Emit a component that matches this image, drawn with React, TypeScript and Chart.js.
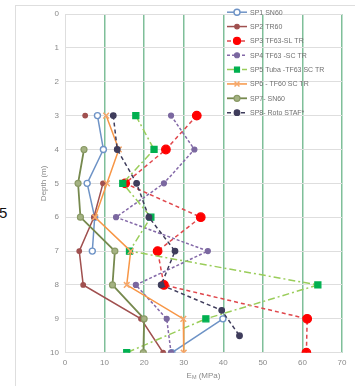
import React, { useEffect, useRef } from 'react';
import { Chart, registerables } from 'chart.js';

Chart.register(...registerables);

// ---- data ----
const depths = [3, 4, 5, 6, 7, 8, 9, 10];
const sp8Depths = [3, 4, 5, 6, 7, 8, 8.75, 9.5];
const seriesNames = [
  'SP1 SN60',
  'SP2 TR60',
  'SP3 TF63-SL TR',
  'SP4 TF63 -SC TR',
  'SP5 Tuba -TF63 SC TR',
  'SP6 - TF60 SC TR',
  'SP7- SN60',
  'SP8- Roto STAF*',
];
const sp1 = [8.2, 9.7, 5.6, 7.5, 6.9, null, 39.9, 27.0];
const sp2 = [5.1, null, 9.6, 7.3, 3.6, 4.6, 19.2, 24.8];
const sp3 = [33.3, 25.5, 15.2, 34.3, 23.4, 25.0, 61.2, 61.0];
const sp4 = [26.8, 32.7, 25.0, 12.9, 36.1, 17.9, 25.7, 26.8];
const sp5 = [17.9, 22.5, 14.6, 21.7, 16.3, 63.9, 35.6, 15.6];
const sp6 = [10.4, 13.6, 10.6, 7.6, 16.6, 15.6, 29.9, 30.0];
const sp7 = [null, 4.8, 3.3, 3.9, 12.6, 12.0, 20.0, 19.8];
const sp8 = [12.2, 13.2, 18.1, 21.2, 27.8, 24.3, 39.6, 44.1];
const xTickValues = [0, 10, 20, 30, 40, 50, 60, 70];
const yTickValues = [0, 1, 2, 3, 4, 5, 6, 7, 8, 9, 10];

const FONT = "'Liberation Sans', Arial, sans-serif";
const TEXT = '#8a8a8a';
const GRID_GRAY = '#dedede';
const GRID_GREEN = '#7fbf99';

type Pt = { x: number | null; y: number };
const pts = (vals: (number | null)[], ys: number[]): Pt[] => vals.map((v, i) => ({ x: v, y: ys[i] }));

function drawMarker(ctx: CanvasRenderingContext2D, style: string, x: number, y: number, r: number, fill: string, stroke: string, bw: number) {
  ctx.save();
  ctx.setLineDash([]);
  ctx.lineWidth = bw;
  ctx.fillStyle = fill;
  ctx.strokeStyle = stroke;
  ctx.beginPath();
  if (style === 'rect') {
    const s = Math.SQRT1_2 * r;
    ctx.rect(x - s, y - s, 2 * s, 2 * s);
    ctx.fill();
    ctx.stroke();
  } else if (style === 'crossRot') {
    const s = Math.SQRT1_2 * r;
    ctx.moveTo(x - s, y - s);
    ctx.lineTo(x + s, y + s);
    ctx.moveTo(x - s, y + s);
    ctx.lineTo(x + s, y - s);
    ctx.stroke();
  } else {
    ctx.arc(x, y, r, 0, Math.PI * 2);
    ctx.fill();
    ctx.stroke();
  }
  ctx.restore();
}

const legendPlugin = {
  id: 'excelLegend',
  afterDraw(chart: any) {
    const { ctx, chartArea } = chart;
    const x0 = chartArea.left + 162;
    const y0 = chartArea.top - 1.8;
    const step = 14.35;
    ctx.save();
    chart.data.datasets.forEach((ds: any, i: number) => {
      const y = y0 + i * step;
      ctx.strokeStyle = ds.borderColor;
      ctx.lineWidth = ds.borderWidth;
      ctx.setLineDash(ds.borderDash || []);
      ctx.beginPath();
      ctx.moveTo(x0, y);
      ctx.lineTo(x0 + 20, y);
      ctx.stroke();
      drawMarker(ctx, ds.pointStyle, x0 + 10, y, Math.min(ds.pointRadius, 3.5), ds.pointBackgroundColor, ds.pointBorderColor, ds.pointBorderWidth);
      ctx.fillStyle = '#707070';
      ctx.font = `7px ${FONT}`;
      ctx.textBaseline = 'middle';
      ctx.textAlign = 'left';
      ctx.fillText(ds.label, x0 + 23, y + 0.5);
    });
    ctx.restore();
  },
};

const xTitlePlugin = {
  id: 'xTitle',
  afterDraw(chart: any) {
    const { ctx, chartArea } = chart;
    const cx = (chartArea.left + chartArea.right) / 2;
    const by = chartArea.bottom + 25;
    ctx.save();
    ctx.fillStyle = TEXT;
    ctx.textBaseline = 'alphabetic';
    ctx.textAlign = 'left';
    const big = `8px ${FONT}`;
    const small = `5.5px ${FONT}`;
    ctx.font = big;
    const wE = ctx.measureText('E').width;
    const wRest = ctx.measureText(' (MPa)').width;
    ctx.font = small;
    const wM = ctx.measureText('M').width;
    let x = cx - (wE + wM + wRest) / 2;
    ctx.font = big;
    ctx.fillText('E', x, by);
    x += wE;
    ctx.font = small;
    ctx.fillText('M', x, by + 1.5);
    x += wM;
    ctx.font = big;
    ctx.fillText(' (MPa)', x, by);
    ctx.restore();
  },
};

export default function App() {
  const ref = useRef<HTMLCanvasElement>(null);

  useEffect(() => {
    if (!ref.current) return;
    const mk = (i: number, data: Pt[], o: any) => ({
      label: seriesNames[i],
      data,
      showLine: true,
      spanGaps: false,
      order: 7 - i,
      borderWidth: 1.5,
      pointBorderWidth: 1.2,
      pointStyle: 'circle',
      ...o,
    });
    const datasets = [
      mk(0, pts(sp1, depths), { borderColor: '#6e93c6', pointBackgroundColor: '#ffffff', pointBorderColor: '#6e93c6', pointRadius: 3, pointBorderWidth: 1.4 }),
      mk(1, pts(sp2, depths), { borderColor: '#a0504f', pointBackgroundColor: '#a0504f', pointBorderColor: '#a0504f', pointRadius: 2.3 }),
      mk(2, pts(sp3, depths), { borderColor: '#e0474c', borderDash: [4, 3], pointBackgroundColor: '#ff0000', pointBorderColor: '#ff0000', pointRadius: 4.3 }),
      mk(3, pts(sp4, depths), { borderColor: '#8469a8', borderDash: [3, 2], pointBackgroundColor: '#7b68a0', pointBorderColor: '#7b68a0', pointRadius: 2.5 }),
      mk(4, pts(sp5, depths), { borderColor: '#9acd5a', borderDash: [7, 3, 2, 3], pointStyle: 'rect', pointBackgroundColor: '#00b050', pointBorderColor: '#00b050', pointRadius: 4.3 }),
      mk(5, pts(sp6, depths), { borderColor: '#f79646', pointStyle: 'crossRot', pointBackgroundColor: '#f79646', pointBorderColor: '#f5a76a', pointRadius: 4, pointBorderWidth: 1.5 }),
      mk(6, pts(sp7, depths), { borderColor: '#76894e', borderWidth: 1.8, pointBackgroundColor: '#a4b282', pointBorderColor: '#8a9a66', pointRadius: 3 }),
      mk(7, pts(sp8, sp8Depths), { borderColor: '#3f3d5c', borderDash: [4, 3], pointBackgroundColor: '#3f3d5c', pointBorderColor: '#3f3d5c', pointRadius: 2.8 }),
    ];

    const chart = new Chart(ref.current, {
      type: 'scatter',
      data: { datasets } as any,
      options: {
        animation: false,
        responsive: false,
        events: [],
        layout: { padding: { left: 30, right: 13, top: 14, bottom: 0 } },
        plugins: { legend: { display: false }, tooltip: { enabled: false } },
        scales: {
          x: {
            type: 'linear',
            position: 'bottom',
            min: 0,
            max: 70,
            afterBuildTicks: (s: any) => { s.ticks = xTickValues.map((v) => ({ value: v })); },
            afterFit: (s: any) => { s.height = 33.3; },
            ticks: { padding: 5, color: TEXT, font: { family: FONT, size: 8 } },
            grid: {
              drawTicks: false,
              color: (c: any) => (c.tick && c.tick.value === 0 ? GRID_GRAY : GRID_GREEN),
              lineWidth: (c: any) => (c.tick && c.tick.value === 0 ? 1 : 1.5),
            },
            border: { display: false },
          },
          y: {
            type: 'linear',
            reverse: true,
            min: 0,
            max: 10,
            afterBuildTicks: (s: any) => { s.ticks = yTickValues.map((v) => ({ value: v })); },
            afterFit: (s: any) => { s.width = 35; },
            ticks: { padding: 6, color: TEXT, font: { family: FONT, size: 8 } },
            grid: { drawTicks: false, color: GRID_GRAY, lineWidth: 1 },
            border: { display: false },
            title: { display: true, text: 'Depth (m)', color: TEXT, font: { family: FONT, size: 8 }, padding: { top: 8.5, bottom: 0 } },
          },
        },
      } as any,
      plugins: [legendPlugin, xTitlePlugin],
    });
    return () => chart.destroy();
  }, []);

  return (
    <div style={{ position: 'absolute', left: 0, top: 0, width: 355, height: 386, overflow: 'hidden', background: '#fff' }}>
      <div style={{ position: 'absolute', left: 15, top: 5, width: 400, height: 400, borderLeft: '1px solid #dedede', borderTop: '1px solid #dedede' }} />
      <div style={{ position: 'absolute', left: -1, top: 204, fontFamily: FONT, fontSize: 15, color: '#111', lineHeight: 'normal' }}>5</div>
      <canvas ref={ref} width={355} height={386} style={{ position: 'absolute', left: 0, top: 0, width: 355, height: 386 }} />
    </div>
  );
}
